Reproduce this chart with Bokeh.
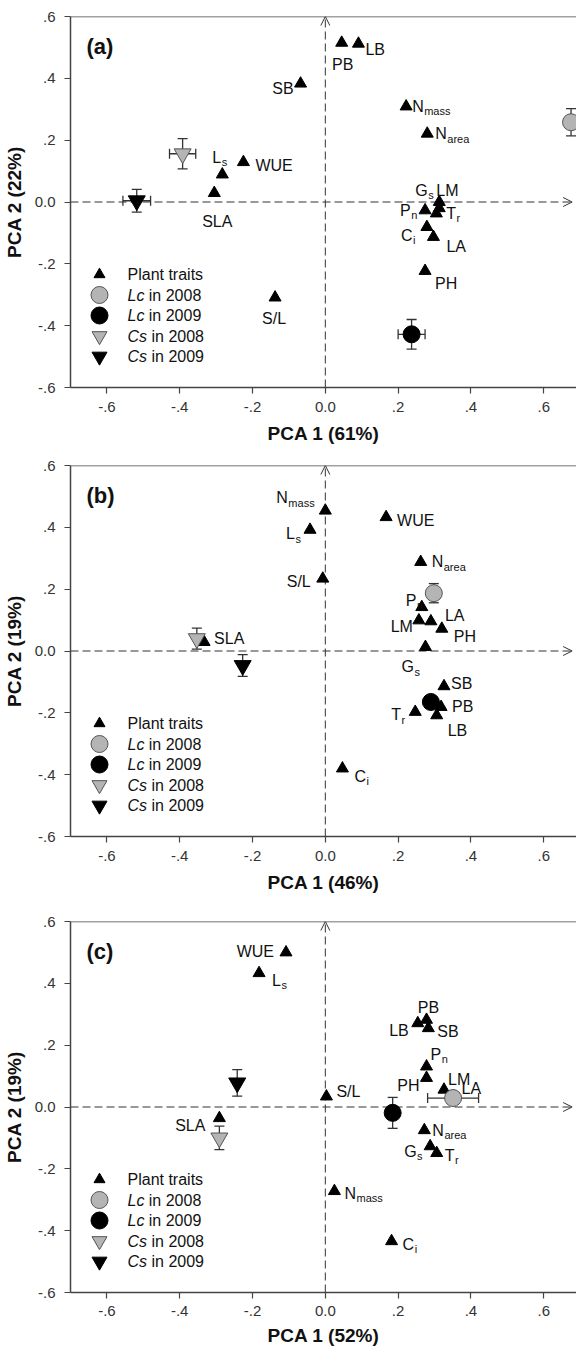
from bokeh.plotting import figure
from bokeh.models import (ColumnDataSource, Arrow, OpenHead, Whisker, TeeHead, Span,
                          FixedTicker, CustomJSTickFormatter)
from bokeh.layouts import column
from bokeh.embed import file_html
from bokeh.resources import INLINE
from bokeh.core.properties import value

# ---------------- data ----------------
groups = ["Lc in 2008", "Lc in 2009", "Cs in 2008", "Cs in 2009"]

# panel (a)
a_traits = ["PB", "LB", "SB", "N_mass", "N_area", "WUE", "L_s", "SLA", "LM", "G_s", "P_n", "T_r", "C_i", "LA", "PH", "S/L"]
a_x = [0.045, 0.091, -0.068, 0.222, 0.280, -0.225, -0.283, -0.305, 0.313, 0.313, 0.274, 0.305, 0.279, 0.297, 0.274, -0.138]
a_y = [0.515, 0.512, 0.383, 0.309, 0.221, 0.129, 0.089, 0.029, 0.000, -0.020, -0.027, -0.037, -0.081, -0.113, -0.223, -0.309]
a_gx = [0.675, 0.237, -0.392, -0.518]
a_gy = [0.258, -0.428, 0.156, 0.004]
a_gxerr = [0.0, 0.037, 0.036, 0.038]
a_gyerr = [0.044, 0.048, 0.049, 0.037]

# panel (b)
b_traits = ["N_mass", "L_s", "S/L", "WUE", "N_area", "P_n", "LM", "LA", "PH", "G_s", "SLA", "SB", "PB", "T_r", "LB", "C_i"]
b_x = [0.000, -0.042, -0.007, 0.167, 0.262, 0.265, 0.257, 0.290, 0.320, 0.275, -0.333, 0.326, 0.318, 0.247, 0.306, 0.047]
b_y = [0.454, 0.392, 0.234, 0.433, 0.288, 0.142, 0.099, 0.096, 0.072, 0.013, 0.029, -0.114, -0.181, -0.197, -0.208, -0.380]
b_gx = [0.298, 0.290, -0.353, -0.227]
b_gy = [0.187, -0.165, 0.040, -0.047]
b_gxerr = [0.0, 0.0, 0.0, 0.0]
b_gyerr = [0.031, 0.0, 0.034, 0.035]

# panel (c)
c_traits = ["WUE", "L_s", "PB", "LB", "SB", "P_n", "PH", "LM", "LA", "S/L", "SLA", "N_area", "G_s", "T_r", "N_mass", "C_i"]
c_x = [-0.108, -0.182, 0.278, 0.254, 0.283, 0.278, 0.278, 0.326, 0.355, 0.003, -0.291, 0.272, 0.288, 0.306, 0.025, 0.182]
c_y = [0.500, 0.433, 0.282, 0.271, 0.255, 0.131, 0.094, 0.056, 0.033, 0.034, -0.036, -0.075, -0.127, -0.149, -0.272, -0.434]
c_gx = [0.351, 0.185, -0.291, -0.242]
c_gy = [0.029, -0.019, -0.100, 0.078]
c_gxerr = [0.070, 0.0, 0.0, 0.0]
c_gyerr = [0.0, 0.050, 0.038, 0.043]

ticks = [-0.6, -0.4, -0.2, 0.0, 0.2, 0.4, 0.6]

# ---------------- layout / style ----------------
# label placement (pixel offsets from the point, alignment)
a_lab = [(1, 22, "center"), (7, 6, "left"), (-7, 5, "right"), (6, 0, "left"), (8, 0, "left"),
         (12, 3, "left"), (-10, -17, "left"), (3, 28, "center"), (-3, -12, "left"), (-24, -18, "left"),
         (-25, 0, "left"), (10, 0, "left"), (-26, 8, "left"), (13, 10, "left"), (10, 13, "left"),
         (-1, 21, "center")]
b_lab = [(-49, -13, "left"), (-24, 4, "left"), (-12, 3, "right"), (11, 3, "left"), (11, 0, "left"),
         (-16, -7, "left"), (-6, 6, "right"), (14, -6, "left"), (12, 8, "left"), (-24, 20, "left"),
         (10, -4, "left"), (7, -3, "left"), (11, 0, "left"), (-24, 3, "left"), (11, 15, "left"),
         (12, 8, "left")]
c_lab = [(-12, -1, "right"), (13, 7, "left"), (2, -12, "center"), (-9, 7, "right"), (9, 3, "left"),
         (4, -12, "left"), (-7, 8, "right"), (4, -10, "left"), (7, -8, "left"), (10, -5, "left"),
         (-14, 7, "right"), (8, 0, "left"), (-26, 5, "left"), (8, 2, "left"), (10, 2, "left"),
         (11, 3, "left")]

FONT = "Liberation Sans"
X0, X1 = -0.7, 0.69
Y0, Y1 = -0.6, 0.6
FW, FH = 506, 371
LAB_PX = 16
SUB_PX = 11
LETTER_EM = {"N": 0.722, "L": 0.556, "G": 0.778, "P": 0.667, "T": 0.611, "C": 0.722}
GRAY = "#b4b4b4"
DARK = "#333333"
group_style = [("circle", GRAY, "#555555", 17), ("circle", "black", "black", 17),
               ("inverted_triangle", GRAY, "#555555", 17), ("inverted_triangle", "black", "black", 17)]
legend_style = [("triangle", "black", "black", 11), ("circle", GRAY, "#555555", 17),
                ("circle", "black", "black", 17), ("inverted_triangle", GRAY, "#555555", 15),
                ("inverted_triangle", "black", "black", 15)]

fmt = CustomJSTickFormatter(code="""
const s = tick.toFixed(1);
if (s === "0.0" || s === "-0.0") { return "0.0"; }
return s.replace("0.", ".");
""")


def make_panel(tag, names, tx, ty, lab, gx, gy, gxe, gye, xlab, ylab, top, bottom, tstand, lstand):
    p = figure(frame_width=FW, frame_height=FH, x_range=(X0, X1), y_range=(Y0, Y1),
               output_backend="svg", toolbar_location=None,
               min_border_left=70, min_border_right=0, min_border_top=top,
               min_border_bottom=bottom)
    p.outline_line_color = None
    p.xgrid.visible = False
    p.ygrid.visible = False
    p.background_fill_color = "white"
    p.border_fill_color = "white"

    for ax in (p.xaxis[0], p.yaxis[0]):
        ax.ticker = FixedTicker(ticks=ticks)
        ax.formatter = fmt
        ax.axis_line_color = "#444444"
        ax.axis_line_width = 1.5
        ax.major_tick_line_color = "#444444"
        ax.major_tick_line_width = 1.2
        ax.major_tick_out = 6
        ax.major_tick_in = 0
        ax.minor_tick_line_color = None
        ax.major_label_text_font = FONT
        ax.major_label_text_font_size = "15px"
        ax.major_label_text_color = "#333333"
        ax.axis_label_text_font = FONT
        ax.axis_label_text_font_size = "19px"
        ax.axis_label_text_font_style = "bold"
        ax.axis_label_text_color = "#111111"
    p.xaxis[0].axis_label = xlab
    p.yaxis[0].axis_label = ylab
    p.xaxis[0].major_label_standoff = tstand
    p.xaxis[0].axis_label_standoff = lstand
    p.yaxis[0].major_label_standoff = 9
    p.yaxis[0].axis_label_standoff = 7

    # top frame line
    p.add_layout(Span(location=Y1, dimension="width", line_color="#444444", line_width=1.5))

    # dashed reference axes with arrows
    p.add_layout(Arrow(end=OpenHead(size=9, line_color=DARK, line_width=1),
                       x_start=0, y_start=Y0, x_end=0, y_end=Y1,
                       line_color=DARK, line_width=1, line_dash="8 4", level="underlay"))
    p.add_layout(Arrow(end=OpenHead(size=9, line_color=DARK, line_width=1),
                       x_start=X0, y_start=0, x_end=0.678, y_end=0,
                       line_color=DARK, line_width=1, line_dash="8 4", level="underlay"))

    # error bars
    vb = [i for i in range(len(gx)) if gye[i] > 0]
    if vb:
        src = ColumnDataSource(dict(base=[gx[i] for i in vb],
                                    lower=[gy[i] - gye[i] for i in vb],
                                    upper=[gy[i] + gye[i] for i in vb]))
        p.add_layout(Whisker(base="base", lower="lower", upper="upper", dimension="height",
                             source=src, line_color=DARK, line_width=1.3, level="underlay",
                             upper_head=TeeHead(size=10, line_color=DARK, line_width=1.3),
                             lower_head=TeeHead(size=10, line_color=DARK, line_width=1.3)))
    hb = [i for i in range(len(gx)) if gxe[i] > 0]
    if hb:
        src = ColumnDataSource(dict(base=[gy[i] for i in hb],
                                    lower=[gx[i] - gxe[i] for i in hb],
                                    upper=[gx[i] + gxe[i] for i in hb]))
        p.add_layout(Whisker(base="base", lower="lower", upper="upper", dimension="width",
                             source=src, line_color=DARK, line_width=1.3, level="underlay",
                             upper_head=TeeHead(size=10, line_color=DARK, line_width=1.3),
                             lower_head=TeeHead(size=10, line_color=DARK, line_width=1.3)))

    # trait points
    p.scatter(tx, ty, marker="triangle", size=12, fill_color="black", line_color="black")

    # group points
    gsrc = ColumnDataSource(dict(x=gx, y=gy, mk=[s[0] for s in group_style],
                                 fc=[s[1] for s in group_style], lc=[s[2] for s in group_style],
                                 sz=[s[3] for s in group_style], name=groups))
    p.scatter("x", "y", marker="mk", fill_color="fc", line_color="lc", size="sz",
              line_width=1, source=gsrc)

    # trait labels (main + subscript)
    mains, subs = [], dict(x=[], y=[], t=[], dx=[], dy=[])
    for i, nm in enumerate(names):
        dx, dy, al = lab[i]
        if "_" in nm:
            m, s = nm.split("_")
            mains.append(m)
            subs["x"].append(tx[i]); subs["y"].append(ty[i]); subs["t"].append(s)
            subs["dx"].append(dx + LETTER_EM[m] * LAB_PX + 0.5)
            subs["dy"].append(dy + 5)
        else:
            mains.append(nm)
    msrc = ColumnDataSource(dict(x=tx, y=ty, t=mains, dx=[l[0] for l in lab],
                                 dy=[l[1] for l in lab], al=[l[2] for l in lab]))
    p.text("x", "y", text="t", x_offset="dx", y_offset="dy", text_align="al",
           text_baseline="middle", text_font=value(FONT), text_font_size=f"{LAB_PX}px",
           text_color="#111111", source=msrc)
    p.text("x", "y", text="t", x_offset="dx", y_offset="dy", text_align="left",
           text_baseline="middle", text_font=value(FONT), text_font_size=f"{SUB_PX}px",
           text_color="#111111", source=ColumnDataSource(subs))

    # panel tag
    xs = FW / (X1 - X0)
    ys = FH / (Y1 - Y0)
    p.text(x=[X0 + 16 / xs], y=[Y1 - 30 / ys], text=[tag], text_baseline="middle",
           text_align="left", text_font=value(FONT), text_font_size="22px",
           text_font_style="bold", text_color="#111111")

    # legend (drawn manually to allow italic species names)
    lx = X0 + 29 / xs
    tx0 = X0 + 57 / xs
    for k, (mk, fc, lc, sz) in enumerate(legend_style):
        yy = Y1 - (258 + 20.5 * k) / ys
        p.scatter([lx], [yy], marker=mk, size=sz, fill_color=fc, line_color=lc, line_width=1)
        if k == 0:
            p.text(x=[tx0], y=[yy], text=["Plant traits"], text_baseline="middle",
                   text_font=value(FONT), text_font_size="16px", text_color="#111111")
        else:
            sp, rest = groups[k - 1].split(" ", 1)
            p.text(x=[tx0], y=[yy], text=[sp], text_baseline="middle",
                   text_font=value(FONT), text_font_size="16px", text_font_style="italic",
                   text_color="#111111")
            off = (21.3 if sp == "Lc" else 24.0)
            p.text(x=[tx0], y=[yy], x_offset=off, text=[rest], text_baseline="middle",
                   text_font=value(FONT), text_font_size="16px", text_color="#111111")
    return p


pa = make_panel("(a)", a_traits, a_x, a_y, a_lab, a_gx, a_gy, a_gxerr, a_gyerr,
                "PCA 1 (61%)", "PCA 2 (22%)", 16, 70, 8, 8)
pb = make_panel("(b)", b_traits, b_x, b_y, b_lab, b_gx, b_gy, b_gxerr, b_gyerr,
                "PCA 1 (46%)", "PCA 2 (19%)", 8, 77, 8, 8)
pc = make_panel("(c)", c_traits, c_x, c_y, c_lab, c_gx, c_gy, c_gxerr, c_gyerr,
                "PCA 1 (52%)", "PCA 2 (19%)", 8, 56, 7, 6)

layout = column(pa, pb, pc, spacing=0)
open("out.html", "w").write(file_html(layout, INLINE))
